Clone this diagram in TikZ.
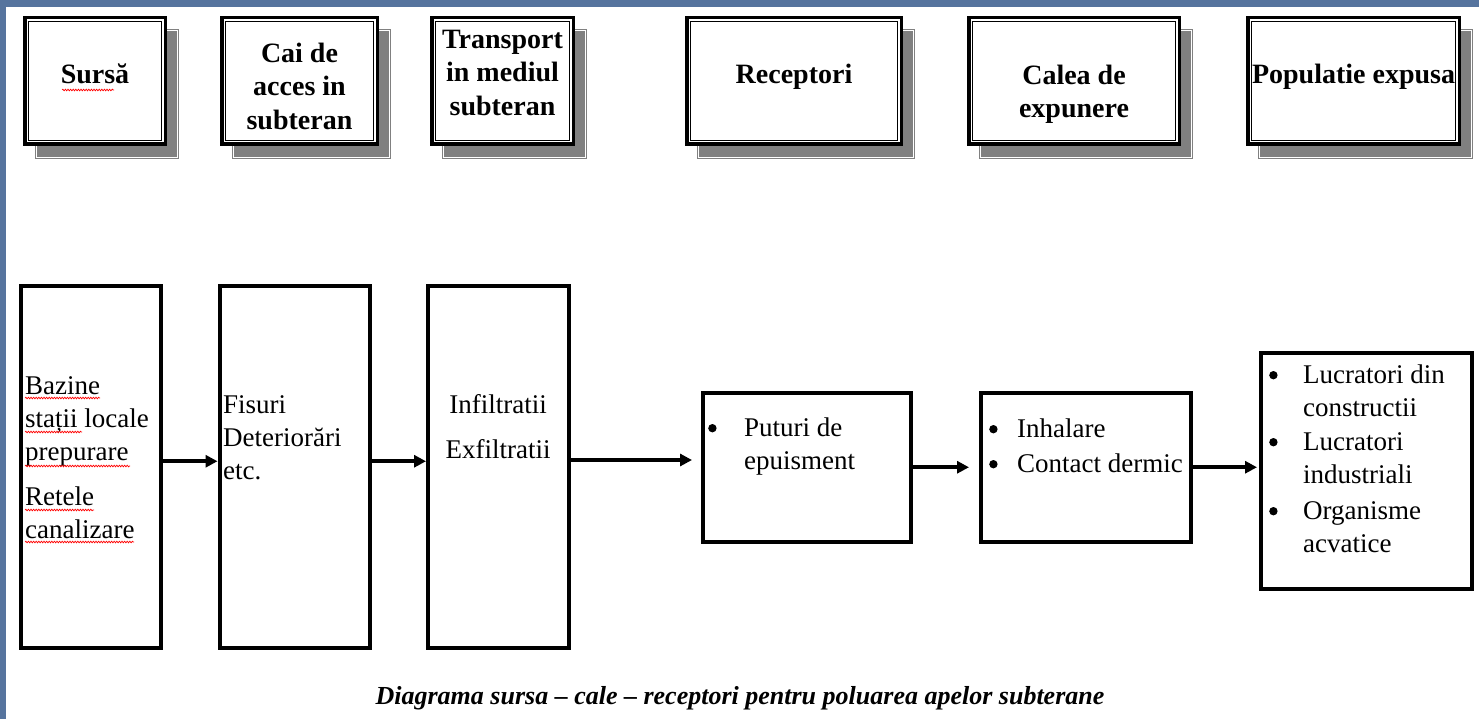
\documentclass[tikz,border=0pt]{standalone}
\usepackage{fontspec}
\setmainfont{Liberation Serif}
\usetikzlibrary{arrows.meta,decorations.pathmorphing,fit,calc}
\definecolor{frameblue}{RGB}{86,116,158}
\definecolor{shadowgray}{RGB}{128,128,128}
\newcommand\fl{\rule{0pt}{21pt}}
\newcommand\bul[1]{\makebox[#1][l]{\tikz[baseline=0pt]{\path (0pt,0pt); \fill (4.2pt,8pt) circle[radius=4.2pt];}}}
\newcommand\TopBox[5]{% #1 name, #2 x1, #3 x2, #4 y1, #5 y2 (outer edges)
  \fill[shadowgray] (#2+12,#4+13) rectangle (#3+12,#5+13);
  \draw[white, line width=0.9pt] (#2+13.8,#4+14.8) rectangle (#3+10.2,#5+11.2);
  \fill[white] (#2,#4) rectangle (#3,#5);
  \draw[line width=3.5pt] (#2+1.75,#4+1.75) rectangle (#3-1.75,#5-1.75);
  \node[tbox, fit={(#2+5.5,#4+5.5) (#3-5.5,#5-5.5)}] (#1) {};
}
\begin{document}
\begin{tikzpicture}[x=1pt,y=-1pt,
  lowbox/.style={draw=black, line width=4pt, fill=white, inner sep=0pt},
  tbox/.style={draw=black, line width=1.6pt, inner sep=0pt},
  txt/.style={anchor=north west, inner sep=0pt, align=left, font=\fontsize{27}{33}\selectfont},
  ctxt/.style={anchor=north, inner sep=0pt, align=center, font=\fontsize{27}{33}\selectfont},
  ttl/.style={anchor=north, inner sep=0pt, align=center, font=\fontsize{28}{33.5}\selectfont\bfseries},
  ttlone/.style={anchor=base, inner sep=0pt, font=\fontsize{28}{33.5}\selectfont\bfseries},
  arr/.style={line width=4pt, -{Triangle[length=12pt,width=12pt]}},
  squig/.style={draw=red, line width=0.7pt, decorate, decoration={snake, amplitude=0.8pt, segment length=2.6pt}},
]
\useasboundingbox (0,0) rectangle (1479,719);
\fill[white] (0,0) rectangle (1479,719);
\fill[frameblue] (0,0) rectangle (1479,7);
\fill[frameblue] (0,0) rectangle (6,719);

% top header boxes
\TopBox{t1}{23}{167}{16}{146}
\TopBox{t2}{220}{379}{16}{146}
\TopBox{t3}{430}{575}{16}{146}
\TopBox{t4}{685}{903}{16}{146}
\TopBox{t5}{967}{1181}{16}{146}
\TopBox{t6}{1246}{1461}{16}{146}

\node[ttlone] (h1) at (95,84) {Sursă};
\draw[squig] (62,90) -- (114,90);
\node[ttl] (h2) at (299.5,41) {\fl Cai de\\ acces in\\ subteran};
\node[ttl] (h3) at (502.5,27) {\fl Transport\\ in mediul\\ subteran};
\node[ttlone] (h4) at (794,84) {Receptori};
\node[ttl] (h5) at (1074,63) {\fl Calea de\\ expunere};
\node[ttlone] (h6) at (1353.5,84) {Populatie expusa};

% lower flow boxes
\node[lowbox, fit={(21,286) (161,647.5)}] (b1) {};
\node[lowbox, fit={(219.5,286) (370,647.5)}] (b2) {};
\node[lowbox, fit={(428,286) (569,647.5)}] (b3) {};
\node[lowbox, fit={(703,392.5) (911,542)}] (b4) {};
\node[lowbox, fit={(981,392.5) (1191,542)}] (b5) {};
\node[lowbox, fit={(1261,352.5) (1472,589)}] (b6) {};

\node[txt] (x1) at (25,373) {\fl Bazine\\ stații locale\\ prepurare\\[12pt] Retele\\ canalizare};
\draw[squig] (25,398) -- (100,398);
\draw[squig] (25,432) -- (82,432);
\draw[squig] (25,466) -- (130,466);
\draw[squig] (25,510) -- (94,510);
\draw[squig] (25,542) -- (134,542);

\node[txt] (x2) at (223,392) {\fl Fisuri\\ Deteriorări\\ etc.};
\node[ctxt] (x3) at (498,392) {\fl Infiltratii\\[12pt] Exfiltratii};
\node[txt] (x4) at (708,415) {\fl\bul{36pt}Puturi de\\ \hspace*{36pt}epuisment};
\node[txt] (x5) at (989,416) {\fl\bul{28pt}Inhalare\\[2pt] \bul{28pt}Contact dermic};
\node[txt] (x6) at (1269,362) {\fl\bul{34pt}Lucratori din\\ \hspace*{34pt}constructii\\[1pt]
  \bul{34pt}Lucratori\\ \hspace*{34pt}industriali\\[3pt]
  \bul{34pt}Organisme\\ \hspace*{34pt}acvatice};

% connectors
\coordinate (e3) at ([xshift=-9pt]b4.west);
\coordinate (e4) at ([xshift=-10pt]b5.west);
\coordinate (e5) at ([xshift=-2pt]b6.west);
\draw[arr] ([yshift=5.5pt]b1.east) -- ([yshift=5.5pt]b2.west);
\draw[arr] ([yshift=5.5pt]b2.east) -- ([yshift=5.5pt]b3.west);
\draw[arr] ([yshift=6.75pt]b3.east) coordinate (s3) -- (e3 |- s3);
\draw[arr] (b4.east) -- (e4 |- b4.east);
\draw[arr] (b5.east) -- (e5 |- b5.east);

% caption
\node[anchor=base, inner sep=0pt, font=\fontsize{26}{30}\selectfont\bfseries\itshape] (cap) at (740,704)
  {Diagrama sursa – cale – receptori pentru poluarea apelor subterane};
\end{tikzpicture}
\end{document}
